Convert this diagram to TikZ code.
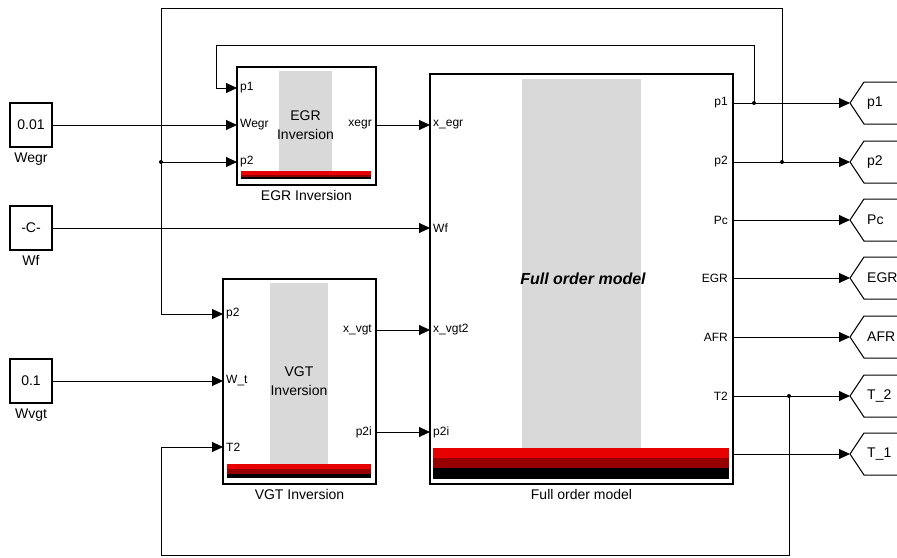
\documentclass[tikz,border=0pt]{standalone}
\usepackage{fontspec}
\setmainfont{Liberation Sans}
\usetikzlibrary{positioning,arrows.meta}
\definecolor{simgray}{RGB}{217,217,217}
\definecolor{simred}{RGB}{230,0,0}
\definecolor{simdark}{RGB}{150,0,0}
\tikzset{
  sig/.style={line width=0.9pt,-{Triangle[length=11pt,width=10pt]}},
  block/.style={draw,line width=1.2pt,inner sep=0pt},
  cst/.style={draw,line width=1.2pt,minimum width=42pt,minimum height=44pt,font=\fontsize{14}{16}\selectfont},
  lab/.style={inner sep=1pt,font=\fontsize{14}{16}\selectfont},
  portl/.style={anchor=west,inner sep=1pt,font=\fontsize{12}{14}\selectfont},
  portr/.style={anchor=east,inner sep=1pt,font=\fontsize{12}{14}\selectfont},
  tagline/.style={line width=1pt},
  dot/.style={fill,circle,inner sep=0pt,minimum size=4pt}
}
\begin{document}
\begin{tikzpicture}[x=1pt,y=-1pt]
\useasboundingbox (0,0) rectangle (897,557);
% Constants
\node[cst] (cwegr) at (31,125) {0.01};
\node[lab,below=4pt of cwegr] (lwegr) {Wegr};
\node[cst] (cwf) at (31,228) {-C-};
\node[lab,below=4pt of cwf] (lwf) {Wf};
\node[cst] (cwvgt) at (31,381) {0.1};
\node[lab,below=4pt of cwvgt] (lwvgt) {Wvgt};

% EGR Inversion
\fill[simgray] (279,71) rectangle (332,171);
\fill[simred] (241,171) rectangle (371,175);
\fill[simdark] (241,175) rectangle (371,177);
\fill[black] (241,177) rectangle (371,179);
\node[block,minimum width=139pt,minimum height=118pt] (egr) at (306.5,126) {};
\node[lab,align=center,font=\fontsize{14}{19}\selectfont] (egrtxt) at (305.5,125) {EGR\\Inversion};
\node[lab,below=4pt of egr] (legr) {EGR Inversion};
\coordinate (egr-p1) at (237,88);
\coordinate (egr-wegr) at (237,125);
\coordinate (egr-p2) at (237,162);
\coordinate (egr-xegr) at (376,125);
\node[portl] at (239,88) {p1};
\node[portl] at (239,125) {Wegr};
\node[portl] at (239,162) {p2};
\node[portr] at (373,125) {xegr};

% VGT Inversion
\fill[simgray] (270,283) rectangle (328,464);
\fill[simred] (227,464) rectangle (371,469);
\fill[simdark] (227,469) rectangle (371,474);
\fill[black] (227,474) rectangle (371,478);
\node[block,minimum width=153pt,minimum height=205pt] (vgt) at (299.5,381.5) {};
\node[lab,align=center,font=\fontsize{14}{19}\selectfont] (vgttxt) at (299,381) {VGT\\Inversion};
\node[lab,below=4pt of vgt] (lvgt) {VGT Inversion};
\coordinate (vgt-p2) at (223,314);
\coordinate (vgt-wt) at (223,381);
\coordinate (vgt-t2) at (223,447);
\coordinate (vgt-xvgt) at (376,330);
\coordinate (vgt-p2i) at (376,432);
\node[portl] at (225,314) {p2};
\node[portl] at (225,381) {W\_t};
\node[portl] at (225,447) {T2};
\node[portr] at (373,330) {x\_vgt};
\node[portr] at (373,432) {p2i};

% Full order model
\fill[simgray] (522,79) rectangle (641,448);
\fill[simred] (433,448) rectangle (729,458);
\fill[simdark] (433,458) rectangle (729,468);
\fill[black] (433,468) rectangle (729,479);
\node[block,minimum width=303pt,minimum height=410pt] (fom) at (581.5,279) {};
\node[lab,font=\fontsize{16}{18}\selectfont\bfseries\itshape] (fomtxt) at (583,279) {Full order model};
\node[lab,below=4pt of fom] (lfom) {Full order model};
\coordinate (fom-xegr) at (430,125);
\coordinate (fom-wf) at (430,228);
\coordinate (fom-xvgt) at (430,330);
\coordinate (fom-p2i) at (430,432);
\node[portl] at (432,125) {x\_egr};
\node[portl] at (432,228) {Wf};
\node[portl] at (432,330) {x\_vgt2};
\node[portl] at (432,432) {p2i};

% Outputs and tags
\foreach \yy/\nm/\olab/\tlab in {103/p1/p1/p1, 162/p2/p2/p2, 220/pc/Pc/Pc, 278/egr/EGR/EGR,
    337/afr/AFR/AFR, 396/t2/T2/T\_2, 454/t1/{}/T\_1}{
  \coordinate (fom-\nm) at (733,\yy);
  \coordinate (tag-\nm) at (850,\yy);
  \node[portr] at (729,\yy) {\olab};
  \draw[tagline] (tag-\nm) -- ++(14,-21) -- ++(40,0) (tag-\nm) -- ++(14,21) -- ++(40,0);
  \node[lab,anchor=west] (tagtxt-\nm) at (866,\yy) {\tlab};
  \draw[sig] (fom-\nm) -- (tag-\nm);
}

% Signals
\draw[sig] (cwegr.east) -- (egr-wegr);
\draw[sig] (cwf.east) -- (fom-wf);
\draw[sig] (cwvgt.east) -- (vgt-wt);
\draw[sig] (egr-xegr) -- (fom-xegr);
\draw[sig] (vgt-xvgt) -- (fom-xvgt);
\draw[sig] (vgt-p2i) -- (fom-p2i);

% Feedback
\coordinate (jp1) at (754,103);
\coordinate (jp2) at (782,162);
\coordinate (jt2) at (789,396);
\coordinate (jleft) at (161,162);
\draw[sig] (jp1) |- (216,45) |- (egr-p1);
\draw[sig] (jp2) |- (161,8) |- (vgt-p2);
\draw[sig] (jleft) -- (egr-p2);
\draw[sig] (jt2) |- (161,555) |- (vgt-t2);
\foreach \j in {jp1,jp2,jt2,jleft}
  \node[dot] at (\j) {};
\end{tikzpicture}
\end{document}
